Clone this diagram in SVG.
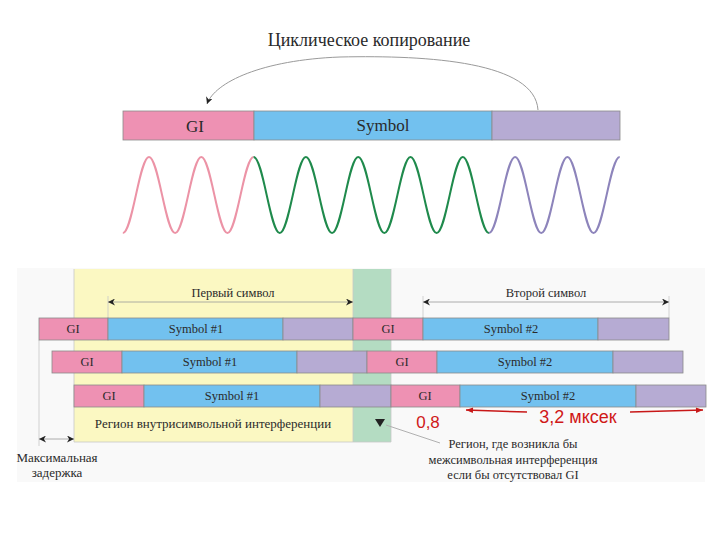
<svg xmlns="http://www.w3.org/2000/svg" width="720" height="540" viewBox="0 0 720 540">
<defs>
<style>
.gi{fill:#ee91b3;stroke:#8a8a8a;stroke-width:0.8}
.sym{fill:#72c1ef;stroke:#8a8a8a;stroke-width:0.8}
.cp{fill:#b6abd3;stroke:#8a8a8a;stroke-width:0.8}
.t{font-family:"Liberation Serif","Times New Roman","DejaVu Serif",serif;fill:#2a2a2a;text-anchor:middle}
.r{font-family:"Liberation Sans",Arial,sans-serif;fill:#d01818;text-anchor:middle}
.dim{stroke:#9a9a9a;stroke-width:0.8;fill:none}
.ext{stroke:#c8c8c8;stroke-width:0.8;fill:none}
</style>
<marker id="ah" viewBox="0 0 10 10" refX="10" refY="5" markerWidth="7" markerHeight="7" orient="auto-start-reverse" markerUnits="userSpaceOnUse"><path d="M0,0 L10,5 L0,10 L3,5 z" fill="#222"/></marker>
<marker id="rh" viewBox="0 0 10 10" refX="10" refY="5" markerWidth="8" markerHeight="7" orient="auto" markerUnits="userSpaceOnUse"><path d="M0,1 L10,5 L0,9 z" fill="#c81818"/></marker>
</defs>
<rect width="720" height="540" fill="#ffffff"/>

<g id="top">
<text class="t" x="369" y="46" font-size="18">Циклическое копирование</text>
<g id="bar-gi"><rect class="gi" x="123" y="111" width="131" height="29"/><text class="t" x="195" y="132" font-size="17">GI</text></g>
<g id="bar-symbol"><rect class="sym" x="254" y="111" width="238" height="29"/><text class="t" x="383" y="131" font-size="17">Symbol</text></g>
<g id="bar-copy"><rect class="cp" x="492" y="111" width="128" height="29"/></g>
</g>

<g id="waves" fill="none" stroke-width="2">
<path stroke="#ec93a6" d="M122.85,233 C132.37,233 139.48,157 149,157 S165.63,233 175.15,233 S191.78,157 201.3,157 S217.93,233 227.45,233 S244.08,157 253.6,157"/>
<path stroke="#1f8a4c" d="M253.6,157 C263.12,157 270.23,233 279.75,233 S296.38,157 305.9,157 S322.53,233 332.05,233 S348.68,157 358.2,157 S374.83,233 384.35,233 S400.98,157 410.5,157 S427.13,233 436.65,233 S453.28,157 462.8,157 S479.43,233 488.95,233"/>
<path stroke="#8d84bb" d="M488.95,233 C498.47,233 505.58,157 515.1,157 S531.73,233 541.25,233 S557.88,157 567.4,157 S584.03,233 593.55,233 S610.18,157 619.7,157"/>
</g>

<g id="bottom-bg">
<rect x="17" y="268" width="688" height="214" fill="#f9f9f9"/>
<rect x="74" y="269" width="279" height="173" fill="#fbf8c2"/>
<rect x="353" y="269" width="38" height="173" fill="#b4dcc2"/>
<line class="ext" x1="74" y1="269" x2="74" y2="442"/>
<line class="ext" x1="353" y1="269" x2="353" y2="442"/>
<line class="ext" x1="391" y1="269" x2="391" y2="442"/>
<line class="ext" x1="74" y1="442" x2="391" y2="442"/>
<line class="ext" x1="39" y1="340" x2="39" y2="446"/>
</g>

<g id="connectors">
<path d="M538,110 C535,62 430,55 340,57 C262,60 215,82 207,104" fill="none" stroke="#9a9a9a" stroke-width="1" marker-end="url(#ah)"/>
<line class="ext" x1="108" y1="296" x2="108" y2="318"/>
<line class="ext" x1="423" y1="296" x2="423" y2="318"/>
<line class="ext" x1="669" y1="296" x2="669" y2="318"/>
<line class="dim" x1="108" y1="302" x2="353" y2="302" marker-start="url(#ah)" marker-end="url(#ah)"/>
<line class="dim" x1="423" y1="302" x2="669" y2="302" marker-start="url(#ah)" marker-end="url(#ah)"/>
<line class="dim" x1="39" y1="439" x2="74" y2="439" marker-start="url(#ah)" marker-end="url(#ah)"/>
<line x1="386" y1="425" x2="440" y2="443" stroke="#b0b0b0" stroke-width="1"/>
<line x1="527" y1="412" x2="466" y2="410" stroke="#c81818" stroke-width="1.5" marker-end="url(#rh)"/>
<line x1="630" y1="412" x2="703" y2="410" stroke="#c81818" stroke-width="1.5" marker-end="url(#rh)"/>
</g>

<g id="row1">
<rect class="gi" x="39" y="318" width="69" height="22"/><text class="t" x="73" y="333" font-size="12.5">GI</text>
<rect class="sym" x="108" y="318" width="175" height="22"/><text class="t" x="196" y="333" font-size="12.5">Symbol #1</text>
<rect class="cp" x="283" y="318" width="70" height="22"/>
<rect class="gi" x="353" y="318" width="70" height="22"/><text class="t" x="388" y="333" font-size="12.5">GI</text>
<rect class="sym" x="423" y="318" width="175" height="22"/><text class="t" x="511" y="333" font-size="12.5">Symbol #2</text>
<rect class="cp" x="598" y="318" width="71" height="22"/>
</g>

<g id="row2">
<rect class="gi" x="52" y="351" width="70" height="22"/><text class="t" x="87" y="366" font-size="12.5">GI</text>
<rect class="sym" x="122" y="351" width="175" height="22"/><text class="t" x="210" y="366" font-size="12.5">Symbol #1</text>
<rect class="cp" x="297" y="351" width="70" height="22"/>
<rect class="gi" x="367" y="351" width="70" height="22"/><text class="t" x="402" y="366" font-size="12.5">GI</text>
<rect class="sym" x="437" y="351" width="176" height="22"/><text class="t" x="525" y="366" font-size="12.5">Symbol #2</text>
<rect class="cp" x="613" y="351" width="70" height="22"/>
</g>

<g id="row3">
<rect class="gi" x="74" y="385" width="70" height="22"/><text class="t" x="109" y="400" font-size="12.5">GI</text>
<rect class="sym" x="144" y="385" width="176" height="22"/><text class="t" x="232" y="400" font-size="12.5">Symbol #1</text>
<rect class="cp" x="320" y="385" width="71" height="22"/>
<rect class="gi" x="391" y="385" width="69" height="22"/><text class="t" x="425" y="400" font-size="12.5">GI</text>
<rect class="sym" x="460" y="385" width="176" height="22"/><text class="t" x="548" y="400" font-size="12.5">Symbol #2</text>
<rect class="cp" x="636" y="385" width="70" height="22"/>
</g>

<g id="labels">
<text class="t" x="233" y="297" font-size="12.5">Первый символ</text>
<text class="t" x="546" y="297" font-size="12.5">Второй символ</text>
<text class="t" x="213" y="428" font-size="13">Регион внутрисимвольной интерференции</text>
<path d="M375,419 L385,419 L380,427 z" fill="#222"/>
<text class="t" x="513" y="448" font-size="12.5">Регион, где возникла бы</text>
<text class="t" x="513" y="464" font-size="12.5">межсимвольная интерференция</text>
<text class="t" x="513" y="479" font-size="12.5">если бы отсутствовал GI</text>
<text class="t" x="57" y="462" font-size="13">Максимальная</text>
<text class="t" x="57" y="477" font-size="13">задержка</text>
<text class="r" x="428" y="428" font-size="17">0,8</text>
<text class="r" x="578" y="423" font-size="18">3,2 мксек</text>
</g>
</svg>
